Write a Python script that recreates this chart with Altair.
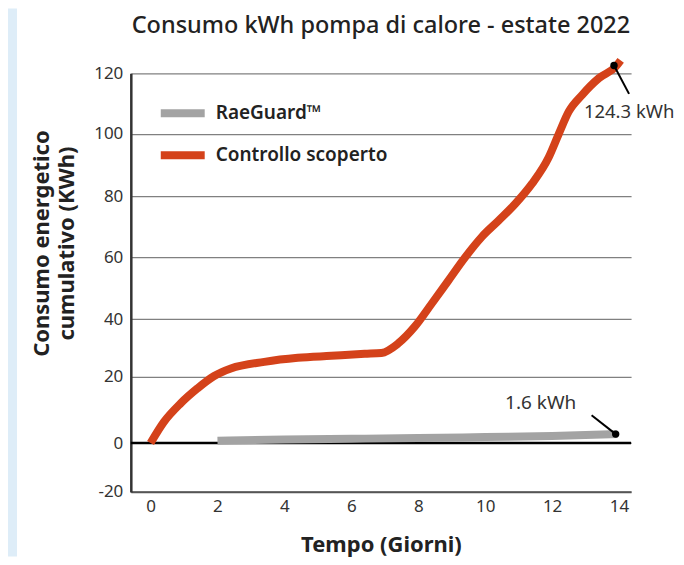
import altair as alt
import pandas as pd

# ---- data ----
days_red = [0, 0.4, 0.9, 1.4, 1.9, 2.4, 3.4, 4.4, 5.4, 6.4, 6.9, 7.4, 7.9, 8.4, 8.9,
            9.4, 9.9, 10.4, 10.9, 11.4, 11.9, 12.2, 12.5, 12.9, 13.4, 13.9, 14.05]
kwh_red = [0, 6.4, 12.0, 16.5, 20.3, 22.9, 25.2, 26.6, 27.3, 28.0, 28.3, 31.6, 37.5, 45,
           52.5, 60, 66.7, 72, 77.5, 84, 92.5, 100, 107.4, 112.9, 118.4, 122.2, 124.3]

days_gray = [2, 4, 6, 8, 10, 12, 13.95]
kwh_gray = [0.7, 1.1, 1.3, 1.5, 1.8, 2.1, 2.7]

series_names = ["RaeGuard\u2122", "Controllo scoperto"]
series_colors = ["#a3a3a3", "#d4421a"]

dot_x = [13.85, 13.9]
dot_y = [122.6, 2.7]

leader_x = [13.85, 13.18]
leader_y = [122.6, 8.4]
leader_x2 = [14.3, 13.9]
leader_y2 = [113.2, 2.7]

label_text = ["124.3 kWh", "1.6 kWh"]
label_x = [12.95, 11.66]
label_y = [107.2, 12.1]
label_align = ["left", "center"]

x_ticks = [0, 2, 4, 6, 8, 10, 12, 14]
y_ticks = [-20, 0, 20, 40, 60, 80, 100, 120]
y_tick_px = [419.3, 370.3, 304, 246.3, 184.3, 123, 60.6, 0]

# ---- tables ----
lines_df = pd.DataFrame({
    "day": days_gray + days_red,
    "kwh": kwh_gray + kwh_red,
    "serie": [series_names[0]] * len(days_gray) + [series_names[1]] * len(days_red),
    "order": list(range(len(days_gray))) + list(range(len(days_red))),
})
dots_df = pd.DataFrame({"day": dot_x, "kwh": dot_y})
leader_df = pd.DataFrame({"day": leader_x, "kwh": leader_y, "day2": leader_x2, "kwh2": leader_y2})
labels_df = pd.DataFrame({"day": label_x, "kwh": label_y, "text": label_text, "align": label_align})

FONT = "Noto Sans"

xscale = alt.Scale(domain=[-0.59, 14.36], nice=False, zero=False)
yscale = alt.Scale(domain=y_ticks, range=y_tick_px, nice=False, zero=False)

xaxis = alt.Axis(values=x_ticks, grid=False, ticks=False, domainColor="#555555", domainWidth=2,
                 labelFontSize=17, labelColor="#333333", labelPadding=7, labelFont=FONT,
                 title="Tempo (Giorni)", titleFontSize=22, titleFontWeight="bold",
                 titleColor="#222222", titlePadding=20, titleFont=FONT)
yaxis = alt.Axis(values=y_ticks, grid=True, gridColor="#808080", gridWidth=1.3, ticks=False,
                 domainColor="#333333", domainWidth=2.5, labelFontSize=17, labelColor="#333333",
                 labelPadding=8, labelFont=FONT, labelExpr="'' + datum.value",
                 title=["Consumo energetico", "cumulativo (KWh)"], titleFontSize=22,
                 titleFontWeight="bold", titleColor="#222222", titleFont=FONT,
                 titleAngle=270, titleX=-89, titleY=170, titleAlign="center",
                 titleBaseline="middle", titleLineHeight=25)

stripe = alt.Chart(pd.DataFrame({"k": [0]})).mark_rect(color="#deedf8").encode(
    x=alt.value(-123), x2=alt.value(-114), y=alt.value(-65), y2=alt.value(484)
)

zero_rule = alt.Chart(pd.DataFrame({"kwh": [0]})).mark_rule(color="black", strokeWidth=2.5).encode(
    y=alt.Y("kwh:Q", scale=yscale, axis=yaxis)
)

lines = alt.Chart(lines_df).mark_line(strokeWidth=8, interpolate="monotone", strokeCap="butt").encode(
    x=alt.X("day:Q", scale=xscale, axis=xaxis),
    y=alt.Y("kwh:Q", scale=yscale, axis=yaxis),
    color=alt.Color("serie:N", scale=alt.Scale(domain=series_names, range=series_colors),
                    sort=series_names,
                    legend=alt.Legend(orient="none", legendX=26, legendY=14, title=None,
                                      symbolType="stroke", symbolSize=1936, symbolStrokeWidth=8,
                                      labelFontSize=19, labelFontWeight=600, labelColor="#222222",
                                      labelFont=FONT, labelOffset=7, rowPadding=-4,
                                      labelLimit=400)),
    order="order:Q",
)

leaders = alt.Chart(leader_df).mark_rule(color="black", strokeWidth=2).encode(
    x="day:Q", y="kwh:Q", x2="day2:Q", y2="kwh2:Q"
)

dots = alt.Chart(dots_df).mark_circle(color="black", size=55, opacity=1).encode(
    x="day:Q", y="kwh:Q"
)

labels_left = alt.Chart(labels_df[labels_df["align"] == "left"]).mark_text(
    fontSize=18.5, color="#333333", baseline="middle", align="left", font=FONT
).encode(x="day:Q", y="kwh:Q", text="text:N")
labels_center = alt.Chart(labels_df[labels_df["align"] == "center"]).mark_text(
    fontSize=19, color="#333333", baseline="middle", align="center", font=FONT
).encode(x="day:Q", y="kwh:Q", text="text:N")

chart = alt.layer(stripe, zero_rule, lines, leaders, dots, labels_left, labels_center).properties(
    width=501, height=419,
    autosize=alt.AutoSizeParams(type="none"),
    padding={"left": 123, "top": 65, "right": 45, "bottom": 65},
    background="white",
    title=alt.Title("Consumo kWh pompa di calore - estate 2022", fontSize=23.5, font=FONT,
                    fontWeight=500, color="#222222", anchor="middle", offset=-29),
).configure_view(stroke=None)

chart.save("out.html", embed_options={"renderer": "svg", "actions": False})
